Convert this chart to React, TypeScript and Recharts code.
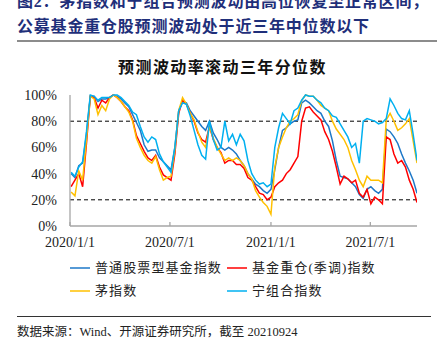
import { LineChart, Line, XAxis, YAxis, ReferenceLine } from 'recharts'

// weekly closes, 2020/1/3 .. 2021/9/24
const startDate = Date.UTC(2020, 0, 3)
const weekMs = 7 * 86400000

const stockFund = [
  40, 37, 46, 48, 70, 99, 99, 95, 97, 97, 98, 100, 99, 97, 94, 91, 85, 79, 73, 62,
  57, 58, 58, 52, 49, 46, 43, 60, 88, 95, 94, 88, 84, 80, 76, 73, 80, 71, 66, 60,
  58, 60, 58, 55, 50, 46, 40, 36, 32, 30, 27, 25, 28, 43, 60, 73, 75, 78, 80, 81,
  94, 96, 94, 91, 88, 86, 80, 76, 65, 50, 38, 37, 36, 33, 30, 24, 21, 28, 30, 27,
  25, 28, 74, 72, 68, 63, 55, 48, 42, 35, 25,
]
const heavyHold = [
  30, 35, 40, 30, 63, 99, 98, 90, 96, 94, 98, 100, 98, 95, 91, 88, 81, 69, 63, 57,
  52, 50, 54, 45, 39, 37, 35, 55, 86, 96, 93, 86, 80, 71, 66, 64, 76, 66, 60, 56,
  48, 50, 50, 47, 47, 44, 37, 35, 30, 25, 24, 20, 22, 30, 33, 35, 40, 43, 48, 53,
  80, 90, 91, 87, 84, 81, 72, 66, 57, 45, 32, 38, 36, 33, 35, 25, 22, 28, 17, 22,
  20, 17, 68, 66, 55, 48, 50, 45, 35, 28, 18,
]
const maoIndex = [
  26, 23, 42, 35, 66, 99, 97, 85, 92, 88, 97, 100, 98, 95, 91, 87, 80, 67, 60, 54,
  50, 48, 53, 43, 35, 37, 38, 58, 88, 98, 93, 86, 81, 72, 64, 60, 76, 67, 60, 55,
  50, 52, 50, 52, 50, 46, 40, 36, 27, 22, 18, 15, 9, 45, 60, 68, 75, 80, 82, 85,
  96, 100, 99, 99, 96, 92, 90, 88, 80, 74, 70, 66, 60, 50, 43, 35, 30, 38, 35, 35,
  35, 33, 81, 86, 80, 73, 75, 78, 82, 65, 48,
]
const ningIndex = [
  41, 38, 45, 49, 72, 100, 99, 96, 98, 98, 98, 100, 100, 98, 95, 92, 87, 85, 76, 68,
  64, 68, 66, 55, 49, 45, 41, 60, 88, 94, 93, 84, 73, 62, 54, 51, 80, 66, 58, 60,
  80, 65, 70, 62, 70, 65, 50, 40, 35, 32, 33, 30, 32, 60, 75, 86, 82, 78, 88, 90,
  96, 100, 99, 99, 96, 94, 90, 88, 84, 83, 78, 73, 68, 60, 63, 48, 80, 82, 81, 80,
  78, 79, 82, 97, 92, 86, 82, 81, 88, 70, 50,
]

const xTicks = [Date.UTC(2020, 0, 1), Date.UTC(2020, 6, 1), Date.UTC(2021, 0, 1), Date.UTC(2021, 6, 1)]
const xEnd = Date.UTC(2021, 8, 24)
const yTicks = [0, 20, 40, 60, 80, 100]

const series = [
  { key: 'stock', name: '普通股票型基金指数', color: '#1E78C8', values: stockFund },
  { key: 'heavy', name: '基金重仓(季调)指数', color: '#FF0000', values: heavyHold },
  { key: 'mao', name: '茅指数', color: '#FFC000', values: maoIndex },
  { key: 'ning', name: '宁组合指数', color: '#00B0F0', values: ningIndex },
]

const data = stockFund.map((_, i) => {
  const row: Record<string, number> = { date: startDate + i * weekMs }
  series.forEach((s) => (row[s.key] = s.values[i]))
  return row
})

const serif = '"Liberation Serif", "Noto Sans CJK SC", serif'
const axisGrey = '#a6a6a6'

const fmtDate = (t: number) => {
  const d = new Date(t)
  return `${d.getUTCFullYear()}/${d.getUTCMonth() + 1}/${d.getUTCDate()}`
}

function XTick(props: any) {
  const { x, y, payload } = props
  return (
    <g>
      <line x1={x} x2={x} y1={y - 4} y2={y} stroke={axisGrey} strokeWidth={1.3} />
      <text x={x} y={y + 21} textAnchor='middle' fontSize={14} fill='#222' fontFamily={serif}>
        {fmtDate(payload.value)}
      </text>
    </g>
  )
}

const legendPos = [
  { left: 70, top: 260 },
  { left: 227, top: 260 },
  { left: 70, top: 283 },
  { left: 227, top: 283 },
]

export default function App() {
  return (
    <div style={{ position: 'absolute', left: 0, top: 0, width: 437, height: 352, background: '#fff', overflow: 'hidden' }}>
      <div style={{ position: 'absolute', left: 17, top: -6, fontSize: 16, lineHeight: '16px', letterSpacing: 0.8, color: '#1F2F7A', fontWeight: 'bold', fontFamily: serif, whiteSpace: 'nowrap' }}>
        图2：茅指数和宁组合预测波动由高位恢复至正常区间，
      </div>
      <div style={{ position: 'absolute', left: 17, top: 19, fontSize: 16, lineHeight: '16px', letterSpacing: 0.8, color: '#1F2F7A', fontWeight: 'bold', fontFamily: serif, whiteSpace: 'nowrap' }}>
        公募基金重仓股预测波动处于近三年中位数以下
      </div>
      <div style={{ position: 'absolute', left: 17, top: 40, width: 420, height: 2, background: '#8c8c8c' }} />
      <div style={{ position: 'absolute', left: 0, width: 437, top: 59, textAlign: 'center', fontSize: 16, lineHeight: '18px', letterSpacing: 1.4, fontWeight: 'bold', fontFamily: serif, color: '#111', paddingLeft: 4 }}>
        预测波动率滚动三年分位数
      </div>

      <div style={{ position: 'absolute', left: 0, top: 0 }}>
        <LineChart width={437} height={260} data={data} margin={{ top: 95, right: 20, bottom: 4, left: 10 }}>
          <XAxis
            dataKey='date'
            type='number'
            domain={[xTicks[0], xEnd]}
            ticks={xTicks}
            interval={0}
            height={30}
            tickSize={0}
            tickMargin={0}
            tick={<XTick />}
            tickLine={false}
            axisLine={{ stroke: axisGrey, strokeWidth: 1.3 }}
            allowDataOverflow
          />
          <YAxis
            domain={[0, 100]}
            ticks={yTicks}
            interval={0}
            width={60}
            tickSize={0}
            tickMargin={13}
            tickLine={false}
            tickFormatter={(v) => `${v}%`}
            tick={{ fontSize: 14, fill: '#222', fontFamily: serif }}
            axisLine={{ stroke: axisGrey, strokeWidth: 1.3 }}
          />
          <ReferenceLine y={80} stroke='#000' strokeDasharray='4 3' strokeWidth={1} />
          <ReferenceLine y={20} stroke='#000' strokeDasharray='4 3' strokeWidth={1} />
          {series.map((s) => (
            <Line
              key={s.key}
              dataKey={s.key}
              name={s.name}
              stroke={s.color}
              strokeWidth={1.5}
              dot={false}
              isAnimationActive={false}
            />
          ))}
        </LineChart>
      </div>

      {series.map((s, i) => (
        <div key={s.key} style={{ position: 'absolute', left: legendPos[i].left, top: legendPos[i].top, display: 'flex', alignItems: 'center', whiteSpace: 'nowrap' }}>
          <span style={{ display: 'inline-block', width: 20, height: 2, background: s.color, opacity: 0.75, marginRight: 5 }} />
          <span style={{ fontSize: 13, letterSpacing: 1.1, fontFamily: serif, color: '#222', lineHeight: '16px' }}>{s.name}</span>
        </div>
      ))}

      <div style={{ position: 'absolute', left: 17, top: 316, width: 414, height: 1, background: '#333' }} />
      <div style={{ position: 'absolute', left: 17, top: 324, fontSize: 12.5, lineHeight: '16px', fontFamily: serif, color: '#222', whiteSpace: 'nowrap' }}>
        数据来源：Wind、开源证券研究所，截至 20210924
      </div>
    </div>
  )
}
